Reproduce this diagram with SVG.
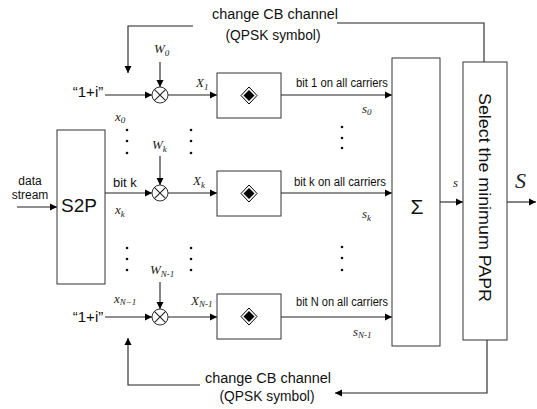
<svg xmlns="http://www.w3.org/2000/svg" width="537" height="409" viewBox="0 0 537 409">
<defs>
<marker id="ah" markerWidth="8" markerHeight="8" refX="7" refY="4" orient="auto" markerUnits="userSpaceOnUse">
<path d="M0,0.5 L7,4 L0,7.5 Z" fill="#000"/>
</marker>
</defs>
<style>
.ln{stroke:#222;stroke-width:1.1;fill:none}
.bx{stroke:#333;stroke-width:1;fill:#fff}
.t{font-family:"Liberation Sans",Arial,sans-serif;fill:#111}
.m{font-family:"Liberation Serif","Times New Roman",serif;font-style:italic;fill:#222;font-size:13px}
.big{font-size:22px}
.sub{font-size:9px}
.dot{fill:#111}
</style>
<rect width="537" height="409" fill="#fff"/>

<g id="connectors">
<line class="ln" x1="17" y1="207" x2="57" y2="207" marker-end="url(#ah)"/>
<line class="ln" x1="105" y1="95" x2="152" y2="95" marker-end="url(#ah)"/>
<line class="ln" x1="168" y1="95" x2="217" y2="95" marker-end="url(#ah)"/>
<line class="ln" x1="160" y1="62" x2="160" y2="87" marker-end="url(#ah)"/>
<line class="ln" x1="281" y1="95" x2="392" y2="95" marker-end="url(#ah)"/>
<line class="ln" x1="105" y1="193" x2="152" y2="193" marker-end="url(#ah)"/>
<line class="ln" x1="168" y1="193" x2="217" y2="193" marker-end="url(#ah)"/>
<line class="ln" x1="160" y1="156" x2="160" y2="185" marker-end="url(#ah)"/>
<line class="ln" x1="281" y1="193" x2="392" y2="193" marker-end="url(#ah)"/>
<line class="ln" x1="105" y1="317" x2="152" y2="317" marker-end="url(#ah)"/>
<line class="ln" x1="168" y1="317" x2="217" y2="317" marker-end="url(#ah)"/>
<line class="ln" x1="160" y1="282" x2="160" y2="309" marker-end="url(#ah)"/>
<line class="ln" x1="281" y1="317" x2="392" y2="317" marker-end="url(#ah)"/>
<line class="ln" x1="440" y1="202" x2="463" y2="202" marker-end="url(#ah)"/>
<line class="ln" x1="507" y1="202" x2="536" y2="202" marker-end="url(#ah)"/>
<polyline class="ln" points="193,26 128,26 128,73" marker-end="url(#ah)"/>
<polyline class="ln" points="337,23 484,23 484,62"/>
<polyline class="ln" points="200,385 128,385 128,338" marker-end="url(#ah)"/>
<polyline class="ln" points="487,340 487,393 335,393" marker-end="url(#ah)"/>
</g>

<g id="feedback-labels">
<text class="t" x="275" y="19" font-size="14" text-anchor="middle" textLength="126" lengthAdjust="spacingAndGlyphs">change CB channel</text>
<text class="t" x="273" y="40" font-size="14" text-anchor="middle" textLength="95" lengthAdjust="spacingAndGlyphs">(QPSK symbol)</text>
<text class="t" x="268" y="383" font-size="14" text-anchor="middle" textLength="126" lengthAdjust="spacingAndGlyphs">change CB channel</text>
<text class="t" x="267" y="401" font-size="14" text-anchor="middle" textLength="95" lengthAdjust="spacingAndGlyphs">(QPSK symbol)</text>
</g>

<g id="input">
<text class="t" x="30" y="185" font-size="12" text-anchor="middle">data</text>
<text class="t" x="30" y="199" font-size="12" text-anchor="middle">stream</text>
</g>

<g id="s2p">
<rect class="bx" x="57" y="130" width="48" height="154"/>
<text class="t" x="79" y="212" font-size="19" text-anchor="middle">S2P</text>
</g>

<g id="row1">
<text class="t" x="88" y="97" font-size="15" text-anchor="middle">“1+i”</text>
<text class="m" x="115" y="121">x<tspan class="sub" dy="2">0</tspan></text>
<text class="m" x="154" y="53">W<tspan class="sub" dy="3">0</tspan></text>
<circle class="bx" cx="160" cy="95" r="8"/>
<path class="ln" d="M154.3,89.3 L165.7,100.7 M165.7,89.3 L154.3,100.7"/>
<text class="m" x="196" y="87">X<tspan class="sub" dy="3">1</tspan></text>
<rect class="bx" x="217" y="73" width="64" height="45"/>
<path d="M249,87 L257,95.5 L249,104 L241,95.5 Z" fill="#fff" stroke="#000" stroke-width="1"/>
<path d="M249,90 L254.5,95.5 L249,101 L243.5,95.5 Z" fill="#000"/>
<text class="t" x="342" y="87" font-size="12" text-anchor="middle" textLength="92" lengthAdjust="spacingAndGlyphs">bit 1 on all carriers</text>
<text class="m" x="362" y="113">s<tspan class="sub" dy="2">0</tspan></text>
</g>

<g id="rowk">
<text class="t" x="113" y="187" font-size="13">bit k</text>
<text class="m" x="115" y="214">x<tspan class="sub" dy="3">k</tspan></text>
<text class="m" x="152" y="149">W<tspan class="sub" dy="3">k</tspan></text>
<circle class="bx" cx="160" cy="193" r="8"/>
<path class="ln" d="M154.3,187.3 L165.7,198.7 M165.7,187.3 L154.3,198.7"/>
<text class="m" x="193" y="185">X<tspan class="sub" dy="3">k</tspan></text>
<rect class="bx" x="217" y="171" width="64" height="45"/>
<path d="M249,185 L257,193.5 L249,202 L241,193.5 Z" fill="#fff" stroke="#000" stroke-width="1"/>
<path d="M249,188 L254.5,193.5 L249,199 L243.5,193.5 Z" fill="#000"/>
<text class="t" x="340" y="186" font-size="12" text-anchor="middle" textLength="92" lengthAdjust="spacingAndGlyphs">bit k on all carriers</text>
<text class="m" x="362" y="218">s<tspan class="sub" dy="3">k</tspan></text>
</g>

<g id="rowN">
<text class="t" x="88" y="322" font-size="15" text-anchor="middle">“1+i”</text>
<text class="m" x="114" y="303">x<tspan class="sub" dy="2">N−1</tspan></text>
<text class="m" x="150" y="274">W<tspan class="sub" dy="3">N-1</tspan></text>
<circle class="bx" cx="160" cy="317" r="8"/>
<path class="ln" d="M154.3,311.3 L165.7,322.7 M165.7,311.3 L154.3,322.7"/>
<text class="m" x="191" y="305">X<tspan class="sub" dy="2">N-1</tspan></text>
<rect class="bx" x="217" y="294" width="64" height="45"/>
<path d="M249,308 L257,316.5 L249,325 L241,316.5 Z" fill="#fff" stroke="#000" stroke-width="1"/>
<path d="M249,311 L254.5,316.5 L249,322 L243.5,316.5 Z" fill="#000"/>
<text class="t" x="342" y="306" font-size="12" text-anchor="middle" textLength="92" lengthAdjust="spacingAndGlyphs">bit N on all carriers</text>
<text class="m" x="353" y="336">s<tspan class="sub" dy="2">N-1</tspan></text>
</g>

<g id="dots">
<circle class="dot" cx="127" cy="130" r="1.3"/><circle class="dot" cx="127" cy="141" r="1.3"/><circle class="dot" cx="127" cy="153" r="1.3"/>
<circle class="dot" cx="191" cy="130" r="1.3"/><circle class="dot" cx="191" cy="141" r="1.3"/><circle class="dot" cx="191" cy="153" r="1.3"/>
<circle class="dot" cx="127" cy="248" r="1.3"/><circle class="dot" cx="127" cy="259" r="1.3"/><circle class="dot" cx="127" cy="270" r="1.3"/>
<circle class="dot" cx="191" cy="248" r="1.3"/><circle class="dot" cx="191" cy="259" r="1.3"/><circle class="dot" cx="191" cy="270" r="1.3"/>
<circle class="dot" cx="342" cy="127" r="1.3"/><circle class="dot" cx="342" cy="138" r="1.3"/><circle class="dot" cx="342" cy="148" r="1.3"/>
<circle class="dot" cx="342" cy="247" r="1.3"/><circle class="dot" cx="342" cy="258" r="1.3"/><circle class="dot" cx="342" cy="270" r="1.3"/>
</g>

<g id="sum">
<rect class="bx" x="392" y="58" width="48" height="288"/>
<text class="t" x="417" y="214" font-size="21" text-anchor="middle">Σ</text>
<text class="m" x="453" y="187">s</text>
</g>

<g id="select">
<rect class="bx" x="463" y="62" width="44" height="278"/>
<text class="t" transform="translate(479,197.5) rotate(90)" x="0" y="0" font-size="17" text-anchor="middle" textLength="209" lengthAdjust="spacingAndGlyphs">Select the minimum PAPR</text>
</g>

<g id="output">
<text class="m big" x="515" y="188">S</text>
</g>
</svg>
